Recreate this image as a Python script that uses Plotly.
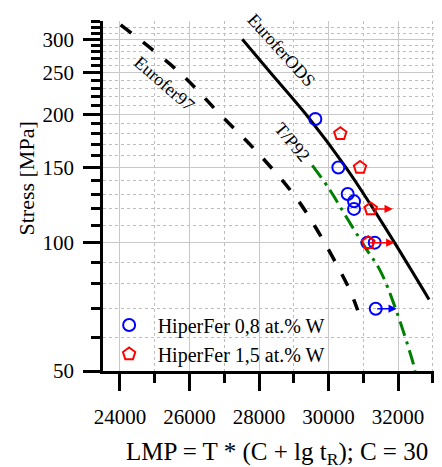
import numpy as np
import plotly.graph_objects as go

# ---------------- data ----------------
ods_lmp = [27520, 28338, 29350, 30504, 31290, 31900, 32893]
ods_stress = [300, 250, 200, 150, 120, 100, 73.6]

e97_lmp = [24020, 25730, 26880, 27980, 28988, 29563, 30571, 30841]
e97_stress = [324, 250, 200, 162, 130, 110.8, 78.7, 69.4]

p92_lmp = [29534, 30044, 30570, 31051, 31483, 31915, 32441, 32490]
p92_stress = [151.8, 132.7, 112.8, 97.6, 86.1, 70.6, 52, 50]

hf08_lmp = [29621, 30283, 30552, 30734, 30734, 31120, 31330, 31359]
hf08_stress = [195, 150, 130, 125, 120, 100, 100, 70]

hf15_lmp = [30340, 30907, 31215, 31146]
hf15_stress = [180, 150, 120, 100]

# run-out (still running) specimens: start -> arrow end
runout_start = [31215, 31146, 31359]
runout_end = [31848, 31895, 31963]
runout_stress = [120, 100, 70]
runout_series = ["1,5", "1,5", "0,8"]

x_major = [24000, 26000, 28000, 30000, 32000]
x_minor = [25000, 27000, 29000, 31000, 33000]
y_major = [50, 100, 150, 200, 250, 300]
y_minor = [60, 70, 80, 90, 110, 120, 130, 140, 160, 170, 180, 190,
           210, 220, 230, 240, 260, 270, 280, 290, 310, 320, 330]

line_labels = ["EuroferODS", "Eurofer97", "T/P92"]
label_lmp = [28640, 25290, 28950]
label_stress = [283, 236, 172]
label_angle = [48, 41, 50]

FONT = "Liberation Serif"
BLUE = "#0000ff"
RED = "#ff0000"
GREEN = "#008000"
TICKFONT = dict(family=FONT, size=21, color="black")

fig = go.Figure()

fig.add_trace(go.Scatter(x=ods_lmp, y=ods_stress, mode="lines", line_shape="spline",
                         line=dict(color="black", width=3), showlegend=False,
                         name="EuroferODS"))
fig.add_trace(go.Scatter(x=e97_lmp, y=e97_stress, mode="lines", line_shape="spline",
                         line=dict(color="black", width=3.5, dash="13px,15px"),
                         showlegend=False, name="Eurofer97"))
fig.add_trace(go.Scatter(x=p92_lmp, y=p92_stress, mode="lines", line_shape="spline",
                         line=dict(color=GREEN, width=3, dash="15px,6px,3px,6px"),
                         showlegend=False, name="T/P92"))

fig.add_trace(go.Scatter(x=hf08_lmp, y=hf08_stress, mode="markers",
                         marker=dict(symbol="circle-open", size=12, color=BLUE,
                                     line=dict(width=2, color=BLUE)),
                         name="HiperFer 0,8 at.% W"))
fig.add_trace(go.Scatter(x=hf15_lmp, y=hf15_stress, mode="markers",
                         marker=dict(symbol="pentagon-open", size=13, color=RED,
                                     line=dict(width=2, color=RED)),
                         name="HiperFer 1,5 at.% W"))

annotations = []
for xs, xe, s, ser in zip(runout_start, runout_end, runout_stress, runout_series):
    c = BLUE if ser == "0,8" else RED
    annotations.append(dict(x=xe, y=np.log10(s), ax=xs, ay=np.log10(s),
                            xref="x", yref="y", axref="x", ayref="y",
                            showarrow=True, arrowhead=2, arrowsize=1.1,
                            arrowwidth=1.5, arrowcolor=c, text="",
                            standoff=0, startstandoff=0))

for t, lx, ly, ang in zip(line_labels, label_lmp, label_stress, label_angle):
    annotations.append(dict(x=lx, y=np.log10(ly), xref="x", yref="y", text=t,
                            showarrow=False, textangle=ang,
                            xanchor="center", yanchor="middle",
                            font=dict(family=FONT, size=18, color="black")))

# axis titles
annotations.append(dict(x=-0.227, y=0.55, xref="paper", yref="paper",
                        xanchor="center", yanchor="middle",
                        text="Stress [MPa]", textangle=-90, showarrow=False,
                        font=dict(family=FONT, size=22, color="black")))
annotations.append(dict(x=0.513, y=-0.236, xref="paper", yref="paper",
                        xanchor="center", yanchor="middle",
                        text="LMP = T * (C + lg t<sub>R</sub>); C = 30", showarrow=False,
                        font=dict(family=FONT, size=25, color="black")))

fig.update_layout(
    width=434, height=459,
    margin=dict(l=95, r=0, t=13, b=96),
    plot_bgcolor="white", paper_bgcolor="white",
    font=dict(family=FONT, size=21, color="black"),
    annotations=annotations,
    legend=dict(x=-0.007, y=0.187, xanchor="left", yanchor="top",
                bgcolor="rgba(0,0,0,0)", itemwidth=47,
                font=dict(family=FONT, size=20, color="black"),
                tracegroupgap=0),
    xaxis=dict(range=[23511, 33266], tickvals=x_major,
               ticktext=[str(v) for v in x_major], tickfont=TICKFONT,
               showline=True, linecolor="black", linewidth=2.5,
               ticks="outside", ticklen=17, tickwidth=2.5, tickcolor="black",
               showgrid=True, gridcolor="#c8c8c8", gridwidth=1.3,
               zeroline=False, ticklabelstandoff=8,
               minor=dict(tickvals=x_minor, ticks="outside", ticklen=9,
                          tickwidth=2.5, tickcolor="black", showgrid=True,
                          gridcolor="#bdbdbd", griddash="dot", gridwidth=1)),
    yaxis=dict(type="log", range=[np.log10(50), np.log10(331)],
               tickvals=y_major, ticktext=[str(v) for v in y_major], tickfont=TICKFONT,
               showline=True, linecolor="black", linewidth=2.5,
               ticks="outside", ticklen=17, tickwidth=2.5, tickcolor="black",
               showgrid=True, gridcolor="#c8c8c8", gridwidth=1.3,
               zeroline=False, ticklabelstandoff=5,
               minor=dict(tickvals=y_minor, ticks="outside", ticklen=9,
                          tickwidth=2.5, tickcolor="black", showgrid=True,
                          gridcolor="#bdbdbd", griddash="dot", gridwidth=1)),
)

fig.write_html("out.html")
